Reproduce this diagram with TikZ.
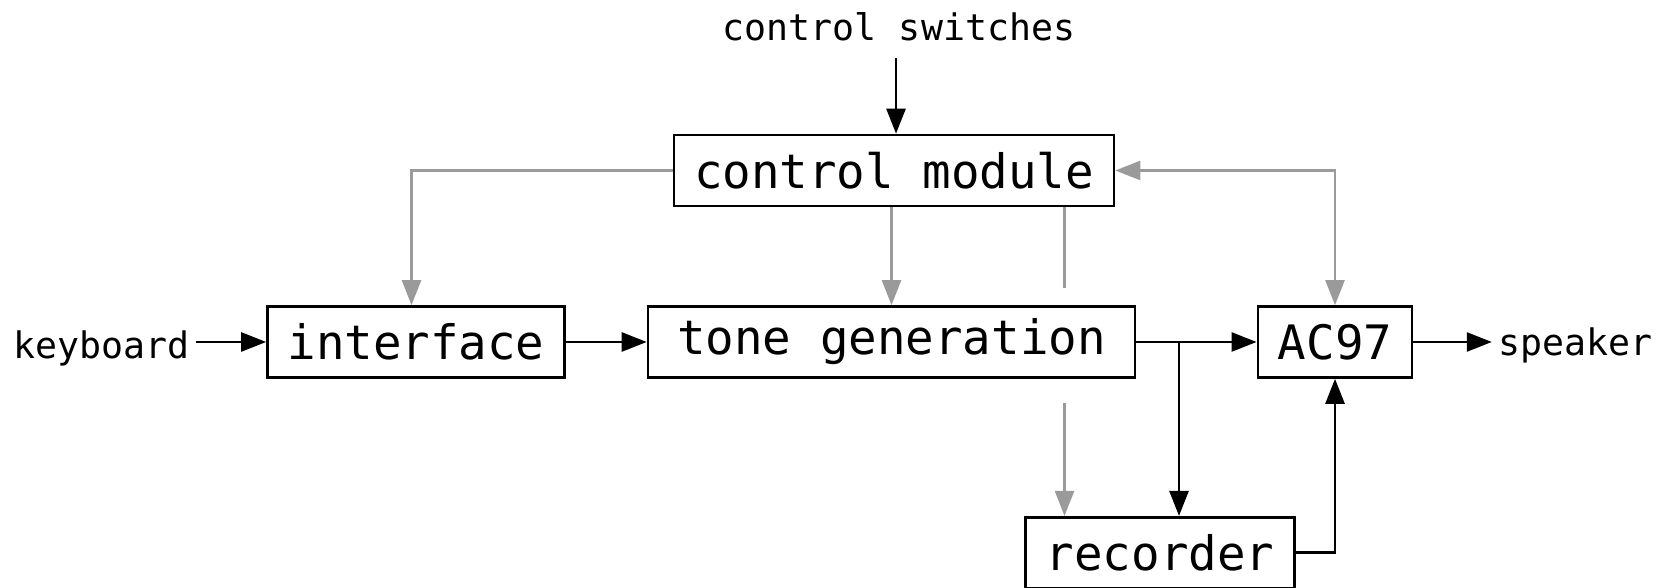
\documentclass[tikz,border=0pt]{standalone}
\usepackage{fontspec}
\setmainfont{DejaVu Sans Mono}
\usepackage{tikz}
\usetikzlibrary{arrows.meta}
\definecolor{ctrlgray}{HTML}{9A9A9A}

\begin{document}
\begin{tikzpicture}[x=1cm, y=1cm, >={Triangle[length=0.5cm,width=0.38cm]},
  block/.style={draw, line width=1.5pt, inner xsep=0.4cm, minimum height=1.42cm,
    font=\fontsize{27}{32}\selectfont},
  label/.style={font=\fontsize{20.8}{25}\selectfont},
  sig/.style={line width=1.5pt, ->},
  ctrl/.style={draw=ctrlgray, line width=1.4pt, ->}]

\useasboundingbox (0,0) rectangle (33.52,11.76);

% Blöcke
\node [block] (module) at (17.88,8.35) {control module};
\node [block] (interface) at (8.32,4.92) {interface};
\node [block, minimum width=9.74cm] (tone) at (17.83,4.92) {tone generation};
\node [block] (ac97) at (26.70,4.92) {AC97};
\node [block] (recorder) at (23.20,0.705) {recorder};

% Ein- und Ausgänge
\node [label] (switches) at (17.98,11.23) {control switches};
\node [label] (keyboard) at (2.03,4.80) {keyboard};
\node [label] (speaker) at (31.50,4.86) {speaker};

\coordinate (split) at (23.58,4.92);
\coordinate (skipA) at (21.29,5.99);
\coordinate (skipB) at (21.29,3.70);

% Signalweg
\draw [sig, shorten <=0.22cm] (switches.south -| 17.92,0) -- (17.92,0 |- module.north);
\draw [sig] (keyboard.east |- interface.west) -- (interface.west);
\draw [sig] (interface) -- (tone);
\draw [sig] (tone) -- (ac97);
\draw [sig] (split) -- (split |- recorder.north);
\draw [sig] (ac97.east) -- (ac97.east -| speaker.west);
\draw [sig] (recorder.east) -| (ac97.south);

% Steuerleitungen
\draw [ctrl] (module.west) -| (8.23,0 |- interface.north);
\draw [ctrl] (module.south -| tone.north) -- (tone.north);
\draw [ctrl, -] (skipA |- module.south) -- (skipA);
\draw [ctrl] (skipB) -- (skipB |- recorder.north);
\draw [ctrl, <->] (module.east) -| (ac97.north);

\end{tikzpicture}
\end{document}
